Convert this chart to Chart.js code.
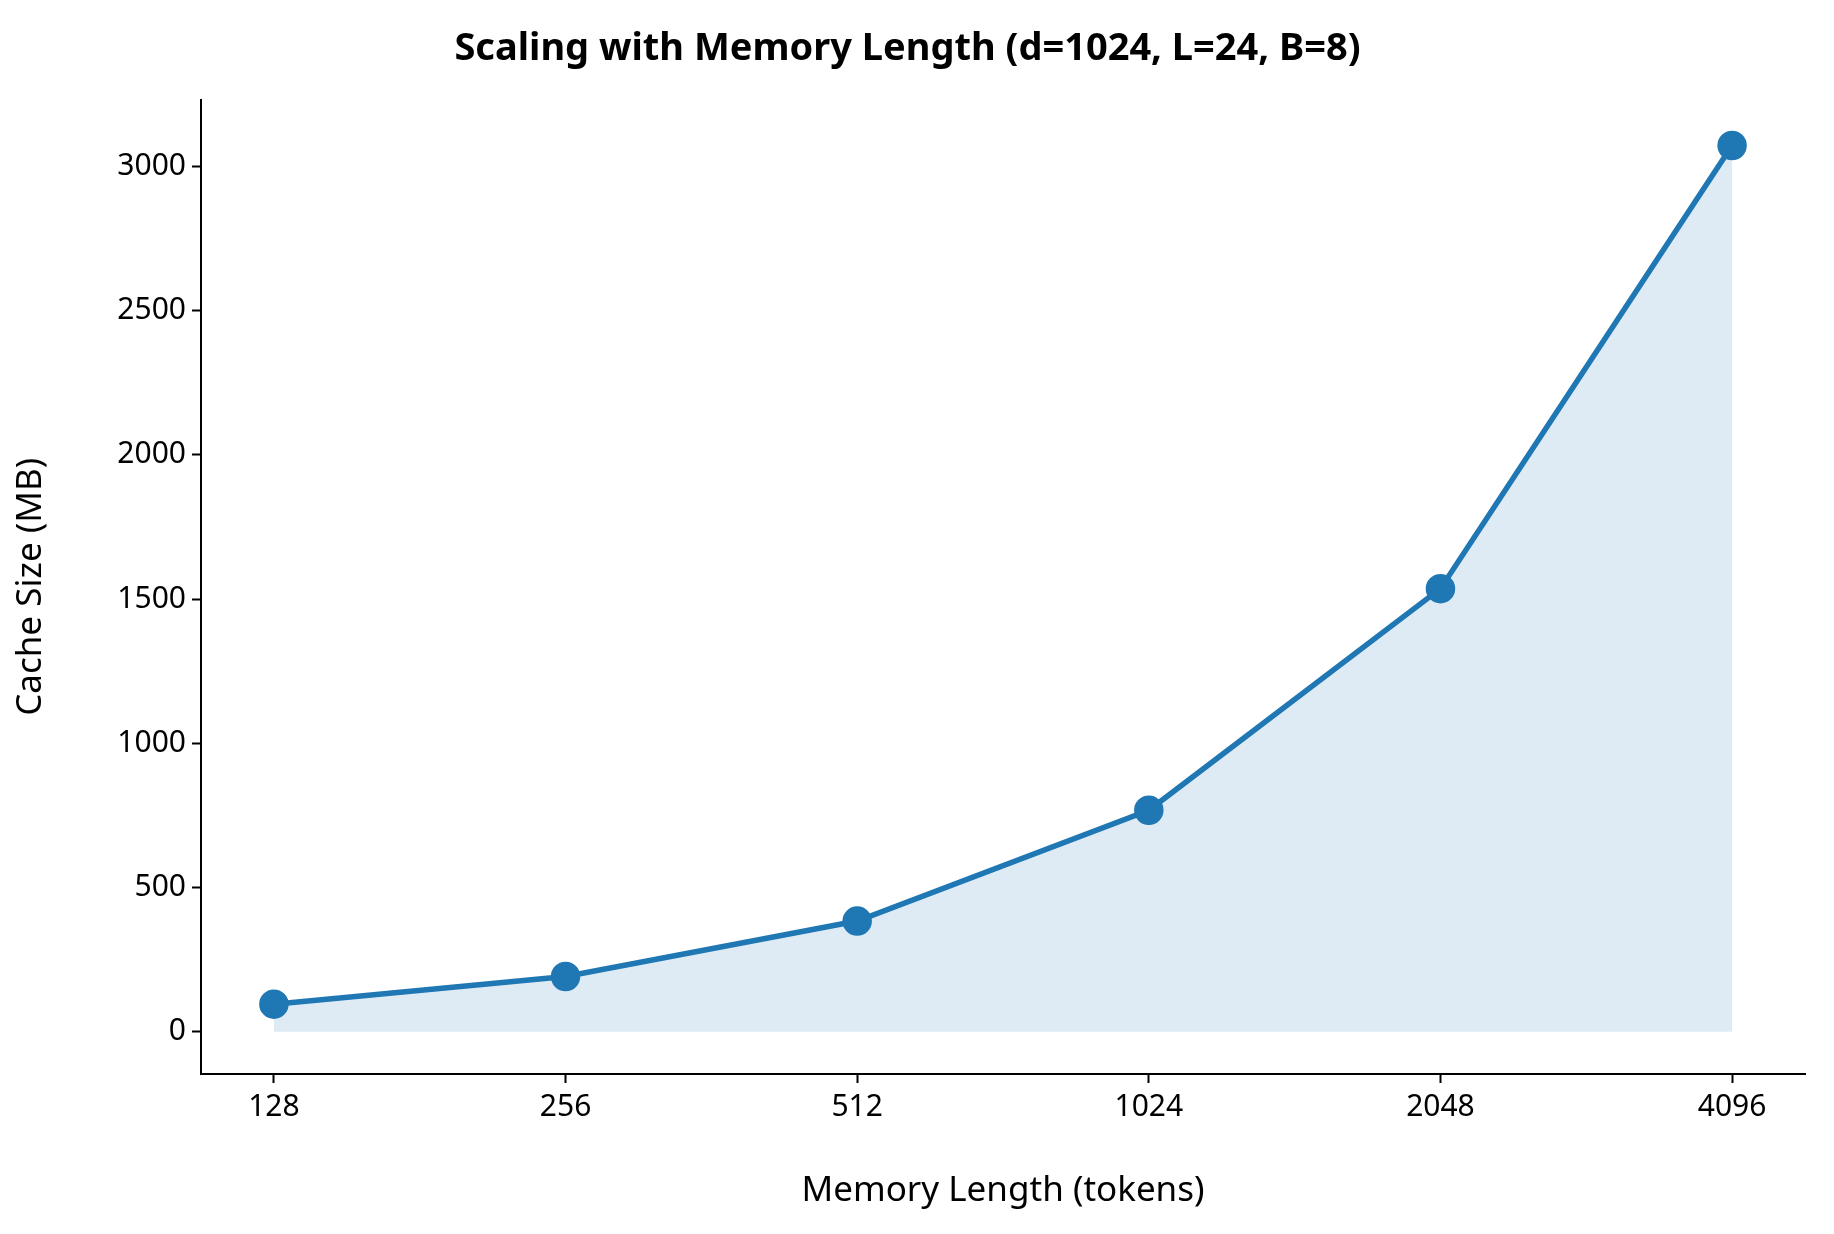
<!DOCTYPE html>
<html>
<head>
<meta charset="utf-8">
<script src="https://cdn.jsdelivr.net/npm/chart.js@4"></script>
<style>
  html, body { margin: 0; padding: 0; background: #fff; }
  #wrap { width: 1834px; height: 1234px; }
</style>
</head>
<body>
<div id="wrap"><canvas id="chart" width="1834" height="1234"></canvas></div>
<script>
// memory lengths (tokens) and cache size (MB)
const memoryLengths = ["128", "256", "512", "1024", "2048", "4096"];
const cacheSizes = [96, 192, 384, 768, 1536, 3072];
const yTicks = [0, 500, 1000, 1500, 2000, 2500, 3000];

const blue = "#1f77b4";
const font = "'Noto Sans', 'DejaVu Sans', sans-serif";

const points = cacheSizes.map((v, i) => ({ x: i, y: v }));

const tickGrid = { display: true, drawOnChartArea: false, drawTicks: true, tickLength: 9, tickWidth: 2, color: "#000" };

new Chart(document.getElementById("chart").getContext("2d"), {
    type: "line",
    data: {
        datasets: [{
            data: points,
            borderColor: blue,
            backgroundColor: "rgba(31,119,180,0.15)",
            borderWidth: 5.5,
            pointRadius: 12,
            pointBackgroundColor: blue,
            pointBorderColor: blue,
            fill: { value: 0 },
            tension: 0,
        }],
    },
    options: {
        responsive: false,
        devicePixelRatio: 1,
        animation: false,
        layout: { padding: { left: 10, right: 29, top: 0, bottom: 0 } },
        plugins: {
            legend: { display: false },
            tooltip: { enabled: false },
            title: {
                display: true,
                text: "Scaling with Memory Length (d=1024, L=24, B=8)",
                color: "#000",
                font: { family: font, size: 38, weight: "bold" },
                padding: { top: 26, bottom: 28 },
            },
        },
        scales: {
            x: {
                type: "linear",
                min: -0.25,
                max: 5.25,
                afterBuildTicks: (axis) => { axis.ticks = memoryLengths.map((_, i) => ({ value: i })); },
                afterFit: (axis) => { axis.height = 160; },
                grid: tickGrid,
                border: { color: "#000", width: 2 },
                ticks: {
                    color: "#000",
                    font: { family: font, size: 30 },
                    callback: (v) => memoryLengths[v],
                    padding: 6,
                },
                title: {
                    display: true,
                    text: "Memory Length (tokens)",
                    color: "#000",
                    font: { family: font, size: 35 },
                    padding: { top: 0, bottom: 22 },
                },
            },
            y: {
                min: -146,
                max: 3231,
                afterBuildTicks: (axis) => { axis.ticks = yTicks.map((v) => ({ value: v })); },
                afterFit: (axis) => { axis.width = 191; },
                grid: tickGrid,
                border: { color: "#000", width: 2 },
                ticks: {
                    color: "#000",
                    font: { family: font, size: 30 },
                    padding: 6,
                    callback: (v) => String(v),
                },
                title: {
                    display: true,
                    text: "Cache Size (MB)",
                    color: "#000",
                    font: { family: font, size: 35 },
                    padding: { top: 0, bottom: 4 },
                },
            },
        },
    },
});
</script>
</body>
</html>
